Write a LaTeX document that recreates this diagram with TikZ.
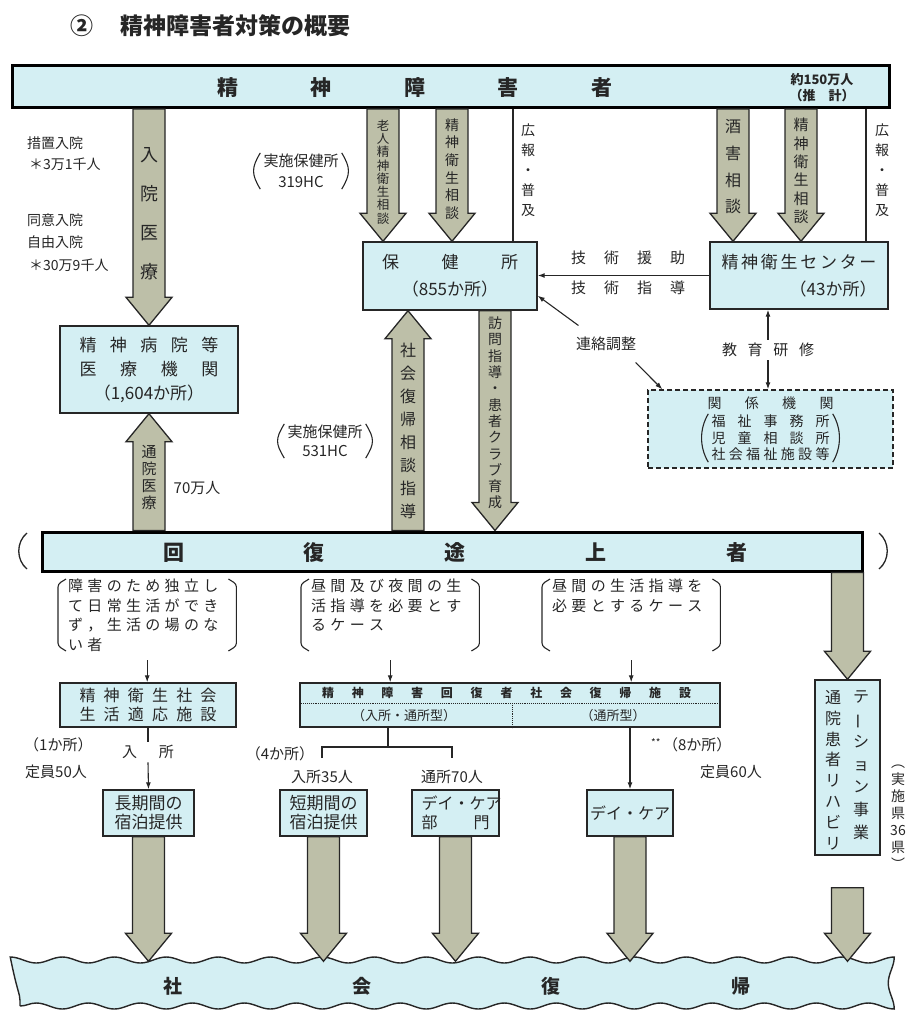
\documentclass[tikz,border=0pt]{standalone}
\usepackage{fontspec}
\setmainfont{Noto Sans CJK JP}
\usetikzlibrary{positioning,calc,arrows.meta,decorations.pathmorphing}
\definecolor{paleaqua}{RGB}{212,239,243}
\definecolor{khakigray}{RGB}{189,191,168}
\definecolor{inkgray}{RGB}{38,38,38}

\makeatletter
% spread characters evenly over a given width
\newcommand{\spreadchars}[2]{\makebox[#1][s]{\def\sc@sep{}\@tfor\sc@c:=#2\do{\sc@sep\sc@c\def\sc@sep{\hfill}}}}
% set characters top to bottom with a given pitch
\newcommand{\vchars}[2]{\vbox{\baselineskip=#1\lineskiplimit=-\maxdimen\@tfor\vc@c:=#2\do{\hbox to 1em{\hss\vc@c\hss}}}}
% characters with extra tracking
\newcommand{\trackchars}[2]{\@tfor\tc@c:=#2\do{\tc@c\kern#1}}
\makeatother

% broad block arrow from tail to tip
\newcommand{\fatarrow}[2]{%
  \draw[fatarr] ($(#1)+(-16,0)$) -- ($(#2)!28pt!(#1)+(-16,0)$)
    -- ($(#2)!28pt!(#1)+(-23,0)$) -- (#2)
    -- ($(#2)!28pt!(#1)+(23,0)$) -- ($(#2)!28pt!(#1)+(16,0)$)
    -- ($(#1)+(16,0)$) -- cycle;}

\begin{document}
\begin{tikzpicture}[x=1pt,y=-1pt,
    every node/.style={text=inkgray},
    box/.style={draw=inkgray,line width=1.4pt,fill=paleaqua,inner sep=0pt,align=center},
    bar/.style={draw=black,line width=3pt,fill=paleaqua,inner sep=0pt},
    fatarr/.style={draw=inkgray,line width=1.3pt,fill=khakigray,line join=miter},
    link/.style={draw=inkgray,line width=1.1pt},
    linkarr/.style={link,-{Latex[length=7pt,width=5pt]}},
    note/.style={font=\fontsize{14}{16}\selectfont,inner sep=0pt},
    hcnote/.style={font=\fontsize{15}{21}\selectfont,inner sep=0pt,align=center},
    caselbl/.style={anchor=north west,inner sep=0pt,text width=158pt,align=left,font=\fontsize{15}{19.5}\selectfont},
    brk/.style={draw=inkgray,line width=1.1pt,rounded corners=3pt}]
    \useasboundingbox (0,0) rectangle (909,1012);

    % Title
    \node[anchor=west,inner sep=0pt,font=\fontsize{23}{26}\selectfont\bfseries] (title) at (70,26) {②\hspace{27pt}精神障害者対策の概要};

    % Persons with mental disorders
    \node[bar,minimum width=877pt,minimum height=42pt] (topbar) at (450.5,86.5) {};
    \node[font=\fontsize{21}{24}\selectfont\bfseries] (topname) at (414.5,88) {\spreadchars{395pt}{精神障害者}};
    \node[inner sep=0pt,align=center,font=\fontsize{13}{16}\selectfont\bfseries] (total) at (822,88) {約150万人\\（推\hspace{13pt}計）};

    % Inpatient care
    \node[note,anchor=west] (sochi) at (27,143) {措置入院};
    \node[note,anchor=west] (sochin) at (29,164) {＊3万1千人};
    \node[note,anchor=west] (doi) at (27,220) {同意入院};
    \node[note,anchor=west] (jiyu) at (27,242) {自由入院};
    \node[note,anchor=west] (jiyun) at (29,265) {＊30万9千人};
    \node[box,minimum width=178pt,minimum height=87pt,font=\fontsize{17}{24}\selectfont] (hosp) at (149,369.5)
        {\spreadchars{139pt}{精神病院等}\\\spreadchars{139pt}{医療機関}\\（1,604か所）};
    \coordinate (nyuinT) at (topbar.south -| hosp.north);
    \fatarrow{nyuinT}{hosp.north}
    \node[font=\fontsize{18}{20}\selectfont] (nyuin) at (149,214) {\vchars{39pt}{入院医療}};

    % Health centres
    \node[box,minimum width=174pt,minimum height=68pt,font=\fontsize{17}{27}\selectfont] (hc) at (450,276) {\spreadchars{136pt}{保健所}\\（855か所）};
    \coordinate (rojinT) at (topbar.south -| 383,0);
    \coordinate (rojinH) at (hc.north -| 383,0);
    \fatarrow{rojinT}{rojinH}
    \node[font=\fontsize{12.5}{14}\selectfont] (rojin) at (383,172) {\vchars{13.3pt}{老人精神衛生相談}};
    \coordinate (seishinT) at (topbar.south -| 452,0);
    \coordinate (seishinH) at (hc.north -| 452,0);
    \fatarrow{seishinT}{seishinH}
    \node[font=\fontsize{14}{16}\selectfont] (seishin) at (452,169) {\vchars{17.6pt}{精神衛生相談}};
    \coordinate (koho1T) at (topbar.south -| 513,0);
    \coordinate (koho1H) at (hc.north -| 513,0);
    \draw[link] (koho1T) -- (koho1H);
    \node[font=\fontsize{14}{16}\selectfont] (koho1) at (528,170) {\vchars{20pt}{広報・普及}};
    \node[hcnote] (hc319) at (301,171) {実施保健所\\319HC};

    % Mental health centres
    \node[box,minimum width=178pt,minimum height=67pt,align=right,font=\fontsize{17}{27}\selectfont] (mhc) at (799,275.5) {\spreadchars{155pt}{精神衛生センター}\\（43か所）};
    \coordinate (shugaiT) at (topbar.south -| 733,0);
    \coordinate (shugaiH) at (mhc.north -| 733,0);
    \fatarrow{shugaiT}{shugaiH}
    \node[font=\fontsize{16}{18}\selectfont] (shugai) at (733,167) {\vchars{26.7pt}{酒害相談}};
    \coordinate (seishin2T) at (topbar.south -| 801,0);
    \coordinate (seishin2H) at (mhc.north -| 801,0);
    \fatarrow{seishin2T}{seishin2H}
    \node[font=\fontsize{15}{17}\selectfont] (seishin2) at (801,171) {\vchars{18.4pt}{精神衛生相談}};
    \coordinate (koho2T) at (topbar.south -| 866,0);
    \coordinate (koho2H) at (mhc.north -| 866,0);
    \draw[link] (koho2T) -- (koho2H);
    \node[font=\fontsize{14}{16}\selectfont] (koho2) at (882,170) {\vchars{20pt}{広報・普及}};

    % Technical support
    \draw[linkarr] (mhc.west) -- (mhc.west -| hc.east);
    \node[font=\fontsize{15}{18}\selectfont] (enjo) at (628,258) {\spreadchars{114pt}{技術援助}};
    \node[font=\fontsize{15}{18}\selectfont] (shido) at (628,288) {\spreadchars{114pt}{技術指導}};

    % Related agencies
    \node[box,dash pattern=on 5pt off 3pt,minimum width=245pt,minimum height=78pt] (rel) at (770.5,429) {};
    \node[font=\fontsize{14}{16.5}\selectfont,inner sep=0pt] (relname) at (770.5,403) {\spreadchars{126pt}{関係機関}};
    \node[font=\fontsize{14}{16.5}\selectfont,inner sep=0pt,align=center] (rellist) at (770.5,438)
        {\spreadchars{118pt}{福祉事務所}\\\spreadchars{118pt}{児童相談所}\\\spreadchars{118pt}{社会福祉施設等}};
    \node[font=\fontsize{15}{18}\selectfont] (renraku) at (606,344) {連絡調整};
    \coordinate (renrakuA) at ($(renraku.north west)+(6,-8)$);
    \coordinate (renrakuB) at ($(renraku.south east)+(-4,8)$);
    \draw[linkarr] (renrakuA) -- ($(hc.south east)+(0,-15)$);
    \draw[linkarr] (renrakuB) -- ($(rel.north west)+(15,0)$);
    \node[font=\fontsize{15}{18}\selectfont] (kyoiku) at (768,350) {\spreadchars{92pt}{教育研修}};
    \draw[linkarr] (kyoiku.north) -- (kyoiku.north |- mhc.south);
    \draw[linkarr] (kyoiku.south) -- (kyoiku.south |- rel.north);

    % Persons in recovery
    \node[bar,minimum width=820pt,minimum height=39pt] (rb) at (452,551.5) {};
    \node[font=\fontsize{21}{24}\selectfont\bfseries] (rbname) at (455,553) {\spreadchars{584pt}{回復途上者}};
    \draw[link,line width=1.3pt] (27,533) .. controls (16,542) and (16,560) .. (27,569);
    \draw[link,line width=1.3pt] (879,533) .. controls (890,542) and (890,560) .. (879,569);

    % Outpatient care
    \coordinate (tsuinT) at (rb.north -| hosp.south);
    \fatarrow{tsuinT}{hosp.south}
    \node[font=\fontsize{15}{17}\selectfont] (tsuin) at (149,477) {\vchars{17pt}{通院医療}};
    \node[font=\fontsize{15}{18}\selectfont] (nanaju) at (197,488) {70万人};

    % Rehabilitation guidance and home visits
    \coordinate (fukkiT) at (rb.north -| 408,0);
    \coordinate (fukkiH) at (hc.south -| 408,0);
    \fatarrow{fukkiT}{fukkiH}
    \node[font=\fontsize{16}{18}\selectfont] (fukki) at (408,431) {\vchars{22.9pt}{社会復帰相談指導}};
    \coordinate (homonT) at (hc.south -| 495,0);
    \coordinate (homonH) at (rb.north -| 495,0);
    \fatarrow{homonT}{homonH}
    \node[font=\fontsize{14}{16}\selectfont] (homon) at (495,413) {\vchars{16.3pt}{訪問指導・患者クラブ育成}};
    \node[hcnote,font=\fontsize{15}{19}\selectfont] (hc531) at (325,441) {実施保健所\\531HC};

    % round brackets round the notes
    \foreach \pnode in {hc319,hc531,rellist} {
        \draw[link] ($(\pnode.north west)+(-3,-1)$) .. controls ($(\pnode.north west)+(-12,14)$) and ($(\pnode.south west)+(-12,-14)$) .. ($(\pnode.south west)+(-3,1)$);
        \draw[link] ($(\pnode.north east)+(3,-1)$) .. controls ($(\pnode.north east)+(12,14)$) and ($(\pnode.south east)+(12,-14)$) .. ($(\pnode.south east)+(3,1)$);
    }

    % Target cases
    \node[caselbl] (case1) at (68,579) {\trackchars{4.3pt}{障害のため独立し}\\\trackchars{4.3pt}{て日常生活ができ}\\\trackchars{4.3pt}{ず，生活の場のな}\\\trackchars{4.3pt}{い者}};
    \node[caselbl] (case2) at (311,579) {\trackchars{4.3pt}{昼間及び夜間の生}\\\trackchars{4.3pt}{活指導を必要とす}\\\trackchars{4.3pt}{るケース}};
    \node[caselbl] (case3) at (552,579) {\trackchars{4.3pt}{昼間の生活指導を}\\\trackchars{4.3pt}{必要とするケース}};
    \foreach \casenode in {case1,case2,case3} {
        \draw[brk] ($(\casenode.north west)+(-2,0)$) -- ++(-8,5) -- ++(0,62) -- ++(8,5);
        \draw[brk] ($(\casenode.north east)+(2,0)$) -- ++(8,5) -- ++(0,62) -- ++(-8,5);
    }

    % Facilities
    \node[box,minimum width=176pt,minimum height=44pt,font=\fontsize{16}{18.5}\selectfont] (fac1) at (148,705)
        {\spreadchars{137pt}{精神衛生社会}\\\spreadchars{137pt}{生活適応施設}};
    \node[box,minimum width=420pt,minimum height=44pt] (fac2) at (510,705) {};
    \node[font=\fontsize{12}{14}\selectfont\bfseries,inner sep=0pt] (fac2name) at (506.5,693) {\spreadchars{369pt}{精神障害回復者社会復帰施設}};
    \coordinate (dotL) at (fac2.west |- 0,703);
    \draw[inkgray,line width=0.9pt,densely dotted] (dotL) -- (dotL -| fac2.east);
    \coordinate (dotM) at (512,703);
    \draw[inkgray,line width=0.9pt,densely dotted] (dotM) -- (dotM |- fac2.south);
    \node[font=\fontsize{13}{15}\selectfont] (nyutsu) at (404,716) {（入所・通所型）};
    \node[font=\fontsize{13}{15}\selectfont] (tsusho) at (613,716) {（通所型）};
    \foreach \casenode/\facnode in {case1/fac1,case2/fac2,case3/fac2} {
        \coordinate (\casenode-in) at ($(\casenode.north)+(0,81)$);
        \draw[linkarr] (\casenode-in) -- (\casenode-in |- \facnode.north);
    }

    % Services
    \node[box,minimum width=91pt,minimum height=46pt,font=\fontsize{17}{19}\selectfont] (long1) at (148.5,813) {長期間の\\宿泊提供};
    \node[box,minimum width=87pt,minimum height=46pt,font=\fontsize{17}{19}\selectfont] (short1) at (323.5,813) {短期間の\\宿泊提供};
    \node[box,minimum width=87pt,minimum height=46pt,font=\fontsize{16}{19}\selectfont] (dc1) at (455.5,813) {\spreadchars{68pt}{デイ・ケア}\\\spreadchars{68pt}{部門}};
    \node[box,minimum width=86pt,minimum height=46pt,font=\fontsize{16}{19}\selectfont] (dc2) at (630,813) {デイ・ケア};

    \node[font=\fontsize{15}{18}\selectfont] (nyusho) at (148,752) {入\hspace{22pt}所};
    \draw[link] (fac1.south) -- (nyusho.north);
    \draw[linkarr] (nyusho.south) -- (long1.north);
    \node[note,anchor=west,font=\fontsize{15}{18}\selectfont] (kasho1) at (24,745) {（1か所）};
    \node[note,anchor=west,font=\fontsize{15}{18}\selectfont] (teiin50) at (25,772) {定員50人};

    \coordinate (split) at (fac2.south -| 388,0);
    \coordinate (splitB) at (388,747);
    \node[font=\fontsize{15}{18}\selectfont] (kasho4) at (280,754) {（4か所）};
    \node[font=\fontsize{15}{18}\selectfont] (nyu35) at (322,777) {入所35人};
    \node[font=\fontsize{15}{18}\selectfont] (tsu70) at (452,777) {通所70人};
    \draw[link] (split) -- (splitB);
    \draw[link] (nyu35.north |- 0,758) |- (splitB) -| (tsu70.north |- 0,758);

    \draw[linkarr] (fac2.south -| dc2.north) -- (dc2.north);
    \node[note,anchor=west,font=\fontsize{15}{18}\selectfont] (kasho8) at (651,745) {\raisebox{4pt}{\fontsize{10}{10}\selectfont **}\,（8か所）};
    \node[note,anchor=west,font=\fontsize{15}{18}\selectfont] (teiin60) at (700,772) {定員60人};

    % Outpatient rehabilitation
    \node[box,minimum width=65pt,minimum height=175pt] (rehab) at (847.5,767.5) {};
    \node[font=\fontsize{16}{18}\selectfont] (rehabL) at (833,770) {\vchars{20.8pt}{通院患者リハビリ}};
    \node[font=\fontsize{16}{18}\selectfont] (rehabR) at (861,765) {\vchars{22.7pt}{テ{\rotatebox[origin=c]{90}{ー}}ション事業}};
    \node[font=\fontsize{14}{16}\selectfont] (jisshi) at (898,817) {\vchars{17pt}{︵実施県{36}県︶}};
    \coordinate (rehabT) at (rb.south -| rehab.north);
    \fatarrow{rehabT}{rehab.north}

    % Return to society
    \node[draw=inkgray,line width=1.4pt,fill=paleaqua,decorate,decoration={snake,amplitude=3pt,segment length=52pt},
          minimum width=872pt,minimum height=44pt,inner sep=0pt] (band) at (456,984) {};
    \node[font=\fontsize{19}{22}\selectfont\bfseries] (bandname) at (456.5,986) {\spreadchars{587pt}{社会復帰}};
    \foreach \svc in {long1,short1,dc1,dc2} {
        \coordinate (\svc-tip) at (band.north -| \svc.south);
        \fatarrow{\svc.south}{\svc-tip}
    }
    \coordinate (rehab2T) at ($(rehab.south)+(0,32)$);
    \coordinate (rehab2H) at (band.north -| rehab.south);
    \fatarrow{rehab2T}{rehab2H}
\end{tikzpicture}
\end{document}
